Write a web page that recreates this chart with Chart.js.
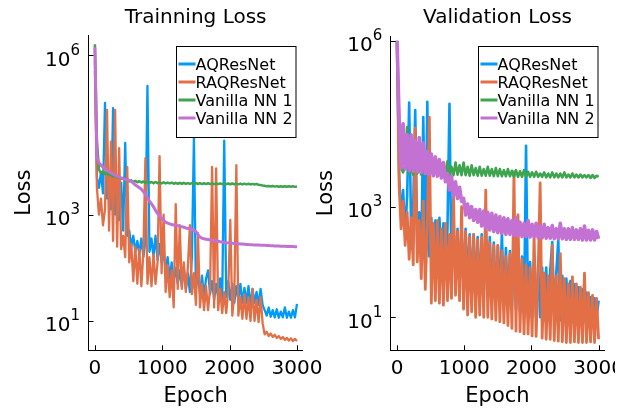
<!DOCTYPE html>
<html>
<head>
<meta charset="utf-8">
<script src="https://cdn.jsdelivr.net/npm/chart.js@4"></script>
<style>
  body { margin: 0; background: #fff; }
  canvas { position: absolute; left: 0; top: 0; }
</style>
</head>
<body>
<canvas id="trainChart" width="634" height="410"></canvas>
<canvas id="valChart" width="615" height="410"></canvas>
<script>
// ---- data (epoch, loss) ----
var epochs = [0, 30, 60, 90, 120, 150, 180, 210, 240, 270,
  300, 330, 360, 390, 420, 450, 480, 510, 540, 570,
  600, 630, 660, 690, 720, 750, 780, 810, 840, 870,
  900, 930, 960, 990, 1020, 1050, 1080, 1110, 1140, 1170,
  1200, 1230, 1260, 1290, 1320, 1350, 1380, 1410, 1440, 1470,
  1500, 1530, 1560, 1590, 1620, 1650, 1680, 1710, 1740, 1770,
  1800, 1830, 1860, 1890, 1920, 1950, 1980, 2010, 2040, 2070,
  2100, 2130, 2160, 2190, 2220, 2250, 2280, 2310, 2340, 2370,
  2400, 2430, 2460, 2490, 2520, 2550, 2580, 2610, 2640, 2670,
  2700, 2730, 2760, 2790, 2820, 2850, 2880, 2910, 2940, 2970, 3000];

var seriesNames = ['AQResNet', 'RAQResNet', 'Vanilla NN 1', 'Vanilla NN 2'];

// training loss
var trainAQResNet = [790000, 5000, 3200, 6300, 2500, 126000, 2000, 4000, 1260, 100000,
  1000, 2500, 790, 4000, 500, 22400, 400, 500, 250, 400,
  200, 320, 180, 355, 160, 320, 263000, 200, 355, 160,
  400, 140, 280, 126, 200, 89, 158, 63, 126, 56,
  100, 50, 89, 45, 100, 40, 79, 35, 158, 27500,
  40, 79, 32, 71, 28, 63, 89, 32, 56, 25,
  50, 28, 63, 25, 24500, 28, 56, 25, 50, 22,
  45, 25, 50, 22, 42, 22, 45, 20, 40, 22,
  35, 20, 40, 20, 16, 12.6, 18, 12, 16, 11.7,
  16.6, 11.5, 15, 11.7, 18, 11.5, 15, 11.5, 16, 11.7, 21];
var trainRAQResNet = [500000, 3200, 1000, 2000, 630, 1260, 93000, 500, 23400, 320,
  93000, 250, 17800, 224, 400, 158, 7900, 126, 282, 56,
  251, 50, 224, 45, 200, 11500, 50, 158, 45, 178,
  50, 126, 12600, 79, 1000, 35, 112, 28, 89, 18,
  1580, 40, 630, 40, 126, 35, 100, 630, 32, 79,
  20, 447, 18, 50, 16, 45, 16, 40, 7900, 18,
  7400, 16, 40, 14, 35, 14, 40, 794, 12.6, 32,
  8500, 12.6, 28, 11, 32, 11, 28, 10, 40, 10,
  25, 9.5, 28, 9.1, 5.6, 6.3, 5.2, 5.8, 5.0, 5.5,
  4.8, 5.2, 4.6, 5.0, 4.4, 4.8, 4.3, 4.7, 4.2, 4.6, 4.2];
var trainVanilla1 = [1600000, 25000, 7000, 6000, 6500, 5800, 6000, 5500, 5700, 5200,
  5400, 5000, 5100, 4700, 4900, 4400, 4600, 4200, 4400, 4100,
  4300, 4050, 4250, 4000, 4200, 3950, 4150, 3950, 4100, 3900,
  4100, 3900, 4050, 3850, 4050, 3850, 4000, 3850, 4000, 3800,
  3950, 3800, 3950, 3800, 3950, 3780, 3920, 3780, 3920, 3760,
  3900, 3760, 3900, 3750, 3880, 3750, 3880, 3750, 3870, 3740,
  3860, 3740, 3860, 3730, 3850, 3730, 3850, 3720, 3840, 3720,
  3830, 3710, 3830, 3700, 3820, 3700, 3800, 3690, 3780, 3680,
  3750, 3650, 3600, 3520, 3480, 3420, 3460, 3380, 3440, 3360,
  3430, 3350, 3420, 3350, 3410, 3340, 3400, 3330, 3400, 3320, 3380];
var trainVanilla2 = [1400000, 12000, 9500, 8500, 7800, 7200, 6800, 6400, 6100, 5800,
  5500, 5300, 5100, 4900, 4700, 4600, 4500, 4400, 4200, 3900,
  3600, 3400, 3200, 3000, 2700, 2400, 2100, 1800, 1600, 1400,
  1200, 1050, 950, 850, 780, 720, 690, 670, 650, 640,
  630, 620, 600, 590, 580, 560, 550, 540, 525, 510,
  480, 420, 380, 360, 350, 345, 340, 335, 330, 325,
  320, 315, 310, 305, 300, 297, 294, 292, 290, 287,
  285, 283, 281, 279, 277, 275, 273, 272, 270, 269,
  268, 267, 266, 265, 264, 263, 262, 261, 260, 258,
  257, 256, 255, 254, 253, 252, 251, 250, 250, 249, 249];

// validation loss
var valAQResNet = [890000, 4000, 630, 2000, 316, 1580, 76000, 316, 1000, 56000,
  200, 794, 126, 41700, 100, 79000, 126, 630, 63, 562,
  79, 630, 100, 500, 79, 398, 72400, 63, 447, 63,
  398, 50, 355, 40, 398, 40, 316, 32, 316, 32,
  282, 28, 316, 25, 251, 25, 282, 22, 224, 20,
  200, 20, 331, 18, 178, 16, 158, 16, 158, 14,
  126, 12.6, 126, 12.6, 12600, 11, 100, 10, 100, 10,
  89, 10, 79, 8.9, 79, 8.9, 71, 229, 8.9, 63,
  251, 8.9, 56, 8.9, 50, 8.9, 45, 10, 40, 10,
  35, 10, 32, 11, 28, 11, 23, 10, 22, 10, 20];
var valRAQResNet = [890000, 2500, 398, 1260, 200, 794, 112, 631, 89, 26300,
  100, 562, 50, 1260, 32, 447, 41700, 18, 501, 20,
  562, 18, 398, 16.6, 501, 20, 316, 22, 1580, 25,
  355, 20, 1000, 14, 355, 11, 282, 12.6, 316, 10,
  251, 11, 282, 10, 2000, 10, 224, 9.3, 200, 8.9,
  200, 8.3, 158, 7.9, 126, 7.1, 141, 6.3, 4270, 5.6,
  708, 5.5, 112, 5.0, 89, 5.0, 79, 4.6, 316, 4.5,
  63, 2690, 4.2, 63, 4.0, 56, 4.0, 200, 3.8, 56,
  3.7, 141, 3.6, 50, 3.5, 40, 3.5, 54, 3.6, 40,
  3.5, 35, 3.5, 63, 3.5, 28, 3.6, 25, 3.5, 22, 4.0];
var valVanilla1 = [1000000, 31600, 5000, 4170, 5620, 27500, 3980, 5000, 3800, 11500,
  3980, 5250, 3800, 5620, 3980, 6310, 3800, 7080, 3980, 6310,
  3720, 7080, 3800, 6030, 3720, 6610, 3800, 5250, 3720, 6310,
  3800, 5620, 3720, 6310, 3720, 5250, 3630, 5620, 3720, 5010,
  3630, 5250, 3630, 4790, 3630, 5250, 3630, 4790, 3550, 5010,
  3550, 4790, 3550, 4570, 3550, 4790, 3550, 4470, 3470, 4570,
  3470, 4370, 3470, 4570, 3470, 4270, 3470, 4170, 3470, 4270,
  3470, 3980, 3470, 4170, 3390, 3980, 3390, 4170, 3390, 3980,
  3390, 3980, 3390, 4170, 3390, 3800, 3390, 3980, 3390, 3800,
  3390, 3800, 3390, 3720, 3390, 3720, 3310, 3720, 3310, 3630, 3470];
var valVanilla2 = [1000000, 39800, 5010, 31600, 4790, 19950, 4470, 19950, 4370, 15850,
  4270, 17800, 4170, 14100, 3980, 10000, 3800, 8910, 3630, 7940,
  3550, 7080, 3310, 6310, 2820, 3980, 2000, 3550, 1580, 2820,
  1410, 2240, 1260, 1410, 708, 1120, 631, 1000, 562, 891,
  525, 891, 447, 832, 398, 794, 380, 759, 355, 708,
  339, 661, 331, 631, 316, 603, 316, 562, 302, 631,
  295, 525, 288, 501, 288, 562, 282, 479, 282, 501,
  275, 447, 275, 479, 269, 417, 269, 457, 263, 398,
  263, 501, 263, 398, 257, 398, 257, 417, 257, 380,
  257, 398, 251, 447, 251, 372, 251, 380, 251, 355, 263];

var xTickValues = [0, 1000, 2000, 3000];
var yTickValues = [10, 1000, 1000000];
var yTickExponents = ['1', '3', '6'];

var colors = ['#009AFA', '#E36F47', '#3EA44E', '#C371D2'];

Chart.defaults.font.family = '"DejaVu Sans", sans-serif';
Chart.defaults.color = '#000';

// title, 10^n tick labels, inward tick marks and boxed legend, drawn Plots-style
var panelDecor = {
    id: 'panelDecor',
    afterDraw: function(chart, args, opts) {
        var ctx = chart.ctx;
        var area = chart.chartArea;
        var xs = chart.scales.x, ys = chart.scales.y;
        ctx.save();
        ctx.fillStyle = '#000';
        ctx.font = '20px "DejaVu Sans"';
        ctx.textAlign = 'center';
        ctx.textBaseline = 'alphabetic';
        ctx.fillText(opts.title, (area.left + area.right) / 2, 23);

        // y tick labels as 10 with a raised exponent
        ctx.textAlign = 'left';
        ys.ticks.forEach(function(t) {
            var k = yTickValues.indexOf(t.value);
            if (k < 0) return;
            var py = ys.getPixelForValue(t.value);
            var right = area.left - 8.5;
            ctx.font = '15px "DejaVu Sans"';
            var we = ctx.measureText(yTickExponents[k]).width;
            ctx.fillText(yTickExponents[k], right - we, py - 0.5);
            ctx.font = '20px "DejaVu Sans"';
            var wb = ctx.measureText('10').width;
            ctx.fillText('10', right - we - wb, py + 10.5);
        });

        ctx.strokeStyle = '#000';
        ctx.lineWidth = 1;
        ctx.beginPath();
        xs.ticks.forEach(function(t) {
            var px = Math.round(xs.getPixelForValue(t.value)) + 0.5;
            ctx.moveTo(px, area.bottom);
            ctx.lineTo(px, area.bottom - 5);
        });
        ys.ticks.forEach(function(t) {
            var py = Math.round(ys.getPixelForValue(t.value)) + 0.5;
            ctx.moveTo(area.left, py);
            ctx.lineTo(area.left + 5, py);
        });
        ctx.stroke();

        var bw = 119.5, bh = 91;
        var bx = Math.round(area.right - 7 - bw) + 0.5, by = 46.5;
        ctx.fillStyle = '#fff';
        ctx.fillRect(bx, by, bw, bh);
        ctx.strokeStyle = '#000';
        ctx.strokeRect(bx, by, bw, bh);
        ctx.font = '16px "DejaVu Sans"';
        chart.data.datasets.forEach(function(ds, i) {
            var cy = by + 17.5 + 18 * i;
            ctx.strokeStyle = ds.borderColor;
            ctx.lineWidth = 3;
            ctx.beginPath();
            ctx.moveTo(bx + 2, cy);
            ctx.lineTo(bx + 19, cy);
            ctx.stroke();
            ctx.fillStyle = '#000';
            ctx.fillText(ds.label, bx + 19, cy + 6);
        });
        ctx.restore();
    }
};

function makePanel(canvasId, title, values, widths, yMin, yMax, pad, yWidth, yTitlePad) {
    var datasets = values.map(function(v, i) {
        return {
            label: seriesNames[i],
            data: v,
            borderColor: colors[i],
            backgroundColor: colors[i],
            borderWidth: widths[i],
            borderJoinStyle: 'round',
            pointRadius: 0,
            tension: 0,
            order: 4 - i
        };
    });
    return new Chart(document.getElementById(canvasId), {
        type: 'line',
        data: { labels: epochs, datasets: datasets },
        options: {
            responsive: false,
            animation: false,
            devicePixelRatio: 1,
            layout: { padding: pad },
            plugins: {
                legend: { display: false },
                tooltip: { enabled: false },
                panelDecor: { title: title }
            },
            scales: {
                x: {
                    type: 'linear',
                    min: -95,
                    max: 3085,
                    grid: { display: false, drawTicks: false },
                    border: { display: true, color: '#000', width: 1 },
                    ticks: {
                        font: { size: 20 },
                        padding: 6,
                        maxRotation: 0,
                        callback: function(v) { return String(v); }
                    },
                    title: { display: true, text: 'Epoch', font: { size: 21 }, padding: { top: 0, bottom: 1 } },
                    afterBuildTicks: function(scale) {
                        scale.ticks = xTickValues.map(function(v) { return { value: v }; });
                    },
                    afterFit: function(scale) {
                        scale.height = 410 - 350.3;
                        scale.paddingLeft = 0;
                        scale.paddingRight = 0;
                    }
                },
                y: {
                    type: 'logarithmic',
                    min: yMin,
                    max: yMax,
                    grid: { display: false, drawTicks: false },
                    border: { display: true, color: '#000', width: 1 },
                    ticks: { display: false },
                    title: { display: true, text: 'Loss', font: { size: 21 }, padding: { top: yTitlePad, bottom: 0 } },
                    afterBuildTicks: function(scale) {
                        scale.ticks = yTickValues.map(function(v) { return { value: v }; });
                    },
                    afterFit: function(scale) {
                        scale.width = yWidth;
                        scale.paddingTop = 0;
                        scale.paddingBottom = 0;
                    }
                }
            }
        },
        plugins: [panelDecor]
    });
}

var trainChart = makePanel('trainChart', 'Trainning Loss',
    [trainAQResNet, trainRAQResNet, trainVanilla1, trainVanilla2], [2.3, 2.3, 2.5, 3],
    2.81, 2380000, { left: 0, top: 35, right: 634 - 302.7, bottom: 0 }, 88.5, 12);
var valChart = makePanel('valChart', 'Validation Loss',
    [valAQResNet, valRAQResNet, valVanilla1, valVanilla2], [2.6, 2.8, 2.6, 3.6],
    2.53, 1220000, { left: 314, top: 36, right: 615 - 604.3, bottom: 0 }, 76.7, 0);
</script>
</body>
</html>
